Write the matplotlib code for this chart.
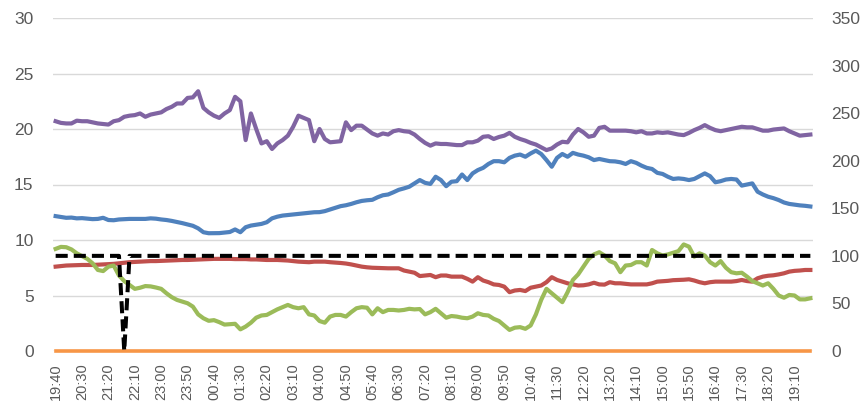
import matplotlib.pyplot as plt

plt.rcParams['font.family'] = ['Liberation Sans', 'DejaVu Sans']

# x axis labels (one every 5 readings, readings every 10 min)
time_labels = ['19:40', '20:30', '21:20', '22:10', '23:00', '23:50', '00:40', '01:30',
               '02:20', '03:10', '04:00', '04:50', '05:40', '06:30', '07:20', '08:10',
               '09:00', '09:50', '10:40', '11:30', '12:20', '13:20', '14:10', '15:00',
               '15:50', '16:40', '17:30', '18:20', '19:10']

# left axis series
purple = [20.7, 20.55, 20.5, 20.5, 20.75, 20.7, 20.7, 20.6, 20.5, 20.45,
          20.4, 20.7, 20.8, 21.1, 21.2, 21.25, 21.4, 21.1, 21.3, 21.4,
          21.5, 21.8, 22.0, 22.3, 22.3, 22.8, 22.85, 23.4, 21.9, 21.5,
          21.2, 21.0, 21.4, 21.7, 22.9, 22.5, 19.0, 21.4, 20.0, 18.7,
          18.9, 18.2, 18.7, 19.0, 19.4, 20.2, 21.2, 21.0, 20.8, 18.9,
          20.0, 19.1, 18.8, 18.85, 18.9, 20.6, 19.9, 20.3, 20.3, 19.95,
          19.6, 19.4, 19.6, 19.5, 19.8, 19.9, 19.8, 19.75, 19.5, 19.1,
          18.75, 18.5, 18.7, 18.65, 18.65, 18.6, 18.55, 18.55, 18.8, 18.8,
          18.95, 19.3, 19.35, 19.1, 19.28, 19.4, 19.65, 19.3, 19.1, 18.95,
          18.75, 18.6, 18.35, 18.1, 18.25, 18.6, 18.85, 18.8, 19.5, 20.0,
          19.7, 19.3, 19.4, 20.1, 20.2, 19.85, 19.85, 19.85, 19.85, 19.8,
          19.7, 19.8, 19.6, 19.6, 19.7, 19.65, 19.7, 19.6, 19.5, 19.45,
          19.65, 19.9, 20.1, 20.35, 20.1, 19.9, 19.8, 19.9, 20.0, 20.1,
          20.2, 20.15, 20.15, 20.0, 19.85, 19.85, 19.95, 20.0, 20.05, 19.8,
          19.6, 19.4, 19.45, 19.5]

blue = [12.15, 12.08, 12.0, 12.02, 11.95, 11.97, 11.92, 11.88, 11.9, 12.0,
        11.8, 11.78, 11.85, 11.88, 11.9, 11.9, 11.9, 11.9, 11.95, 11.92,
        11.85, 11.8, 11.72, 11.62, 11.52, 11.4, 11.28, 11.05, 10.7, 10.61,
        10.62, 10.62, 10.67, 10.72, 10.95, 10.7, 11.15, 11.3, 11.37, 11.45,
        11.6, 11.95, 12.1, 12.2, 12.25, 12.3, 12.35, 12.4, 12.45, 12.5,
        12.51, 12.6, 12.75, 12.9, 13.05, 13.13, 13.25, 13.4, 13.52, 13.58,
        13.62, 13.85, 14.03, 14.1, 14.3, 14.52, 14.65, 14.8, 15.1, 15.4,
        15.15, 15.05, 15.7, 15.4, 14.85, 15.25, 15.3, 15.9, 15.4, 16.0,
        16.3, 16.5, 16.85, 17.1, 17.1, 17.0, 17.4, 17.6, 17.7, 17.5,
        17.8, 18.05, 17.75, 17.2, 16.6, 17.4, 17.75, 17.5, 17.85, 17.7,
        17.6, 17.45, 17.2, 17.3, 17.2, 17.1, 17.08, 17.0, 16.85, 17.1,
        16.95, 16.7, 16.5, 16.4, 16.05, 15.95, 15.7, 15.5, 15.55, 15.5,
        15.4, 15.5, 15.75, 16.0, 15.75, 15.2, 15.3, 15.45, 15.5, 15.45,
        14.9, 15.0, 15.1, 14.35, 14.1, 13.9, 13.77, 13.6, 13.38, 13.25,
        13.18, 13.12, 13.08, 13.02]

red = [7.6, 7.65, 7.7, 7.72, 7.75, 7.75, 7.75, 7.75, 7.78, 7.8,
       7.82, 7.85, 7.9, 7.95, 8.0, 8.02, 8.05, 8.08, 8.1, 8.1,
       8.12, 8.15, 8.15, 8.18, 8.2, 8.2, 8.22, 8.25, 8.25, 8.28,
       8.3, 8.3, 8.3, 8.3, 8.28, 8.28, 8.28, 8.25, 8.25, 8.22,
       8.2, 8.2, 8.2, 8.18, 8.15, 8.1, 8.05, 8.02, 8.0, 8.05,
       8.05, 8.05, 8.0, 7.97, 7.93, 7.88, 7.8, 7.7, 7.6, 7.54,
       7.5, 7.48, 7.45, 7.45, 7.45, 7.45, 7.25, 7.15, 7.05, 6.75,
       6.8, 6.85, 6.65, 6.8, 6.8, 6.7, 6.7, 6.7, 6.5, 6.25,
       6.65, 6.35, 6.2, 6.0, 5.95, 5.8, 5.3, 5.45, 5.5, 5.4,
       5.7, 5.8, 5.9, 6.2, 6.65, 6.4, 6.25, 6.1, 6.0, 5.9,
       5.92, 6.0, 6.15, 6.0, 5.98, 6.2, 6.1, 6.1, 6.05, 6.0,
       6.0, 6.0, 6.0, 6.1, 6.25, 6.28, 6.32, 6.38, 6.4, 6.42,
       6.46, 6.35, 6.2, 6.1, 6.2, 6.25, 6.25, 6.25, 6.25, 6.3,
       6.4, 6.3, 6.25, 6.55, 6.7, 6.78, 6.82, 6.9, 7.0, 7.15,
       7.22, 7.25, 7.3, 7.3]

green = [9.2, 9.38, 9.35, 9.15, 8.8, 8.55, 8.3, 7.9, 7.3, 7.2,
         7.6, 7.7, 6.8, 6.3, 5.95, 5.6, 5.7, 5.85, 5.82, 5.72,
         5.6, 5.2, 4.85, 4.6, 4.45, 4.3, 4.0, 3.3, 2.95, 2.72,
         2.78, 2.6, 2.38, 2.42, 2.45, 1.95, 2.2, 2.55, 3.0, 3.2,
         3.25, 3.5, 3.75, 3.95, 4.15, 3.95, 3.85, 3.95, 3.3, 3.2,
         2.7, 2.55, 3.1, 3.25, 3.25, 3.1, 3.5, 3.85, 3.95, 3.9,
         3.3, 3.85, 3.5, 3.7, 3.7, 3.65, 3.7, 3.8, 3.75, 3.78,
         3.3, 3.5, 3.8, 3.4, 3.0, 3.15, 3.1, 3.0, 2.95, 3.1,
         3.4, 3.25, 3.2, 2.9, 2.7, 2.3, 1.9, 2.1, 2.15, 2.0,
         2.3, 3.3, 4.6, 5.6, 5.2, 4.8, 4.4, 5.3, 6.4, 6.9,
         7.6, 8.3, 8.7, 8.9, 8.6, 8.1, 7.9, 7.1, 7.7, 7.75,
         8.0, 8.0, 7.7, 9.1, 8.8, 8.6, 8.7, 8.85, 9.0, 9.6,
         9.4, 8.5, 8.8, 8.6, 8.0, 7.7, 8.1, 7.5, 7.1, 7.0,
         7.05, 6.7, 6.3, 6.1, 5.9, 6.1, 5.6, 5.0, 4.8, 5.05,
         5.0, 4.65, 4.65, 4.75]

orange = [0, 0, 0, 0, 0, 0, 0, 0, 0, 0, 0, 0, 0, 0, 0, 0,
          0, 0, 0, 0, 0, 0, 0, 0, 0, 0, 0, 0, 0, 0, 0, 0,
          0, 0, 0, 0, 0, 0, 0, 0, 0, 0, 0, 0, 0, 0, 0, 0,
          0, 0, 0, 0, 0, 0, 0, 0, 0, 0, 0, 0, 0, 0, 0, 0,
          0, 0, 0, 0, 0, 0, 0, 0, 0, 0, 0, 0, 0, 0, 0, 0,
          0, 0, 0, 0, 0, 0, 0, 0, 0, 0, 0, 0, 0, 0, 0, 0,
          0, 0, 0, 0, 0, 0, 0, 0, 0, 0, 0, 0, 0, 0, 0, 0,
          0, 0, 0, 0, 0, 0, 0, 0, 0, 0, 0, 0, 0, 0, 0, 0,
          0, 0, 0, 0, 0, 0, 0, 0, 0, 0, 0, 0, 0, 0, 0, 0]

# right axis series (dashed black)
black = [100, 100, 100, 100, 100, 100, 100, 100, 100, 100, 100, 100, 100, 0, 100, 100,
         100, 100, 100, 100, 100, 100, 100, 100, 100, 100, 100, 100, 100, 100, 100, 100,
         100, 100, 100, 100, 100, 100, 100, 100, 100, 100, 100, 100, 100, 100, 100, 100,
         100, 100, 100, 100, 100, 100, 100, 100, 100, 100, 100, 100, 100, 100, 100, 100,
         100, 100, 100, 100, 100, 100, 100, 100, 100, 100, 100, 100, 100, 100, 100, 100,
         100, 100, 100, 100, 100, 100, 100, 100, 100, 100, 100, 100, 100, 100, 100, 100,
         100, 100, 100, 100, 100, 100, 100, 100, 100, 100, 100, 100, 100, 100, 100, 100,
         100, 100, 100, 100, 100, 100, 100, 100, 100, 100, 100, 100, 100, 100, 100, 100,
         100, 100, 100, 100, 100, 100, 100, 100, 100, 100, 100, 100, 100, 100, 100, 100]

x = list(range(len(purple)))
grey = '#595959'

fig = plt.figure(figsize=(8.68, 4.05), dpi=100)
ax = fig.add_axes([53 / 868, 54 / 405, 760 / 868, 333 / 405])
ax2 = ax.twinx()

ax.plot(x, orange, color='#F79646', lw=2.6, clip_on=False, zorder=2)
ax.plot(x, blue, color='#4F81BD', lw=3, zorder=3)
ax.plot(x, purple, color='#8064A2', lw=3, zorder=3)
ax.plot(x, red, color='#C0504D', lw=3, zorder=3)
ax.plot(x, green, color='#9BBB59', lw=3, zorder=4)
ax2.plot(x, black, color='black', lw=2.9, dashes=(3, 1.5), dash_capstyle='butt',
         clip_on=False)

ax.set_xlim(-0.5, len(x) - 0.5)
ax.set_ylim(0, 30)
ax2.set_ylim(0, 350)
ax.set_yticks(range(0, 31, 5))
ax2.set_yticks(range(0, 351, 50))
ax.set_xticks(range(0, len(x), 5))
ax.set_xticklabels(time_labels, rotation=90)

ax.yaxis.grid(True, color='#D9D9D9', lw=1)
ax.set_axisbelow(True)
for a in (ax, ax2):
    for s in a.spines.values():
        s.set_visible(False)

ax.tick_params(axis='y', length=0, pad=14, labelsize=12.5, labelcolor=grey)
ax2.tick_params(axis='y', length=0, pad=13, labelsize=12.5, labelcolor=grey)
ax.tick_params(axis='x', length=0, pad=9, labelsize=10.5, labelcolor=grey)

fig.savefig('out.png', dpi=100)
